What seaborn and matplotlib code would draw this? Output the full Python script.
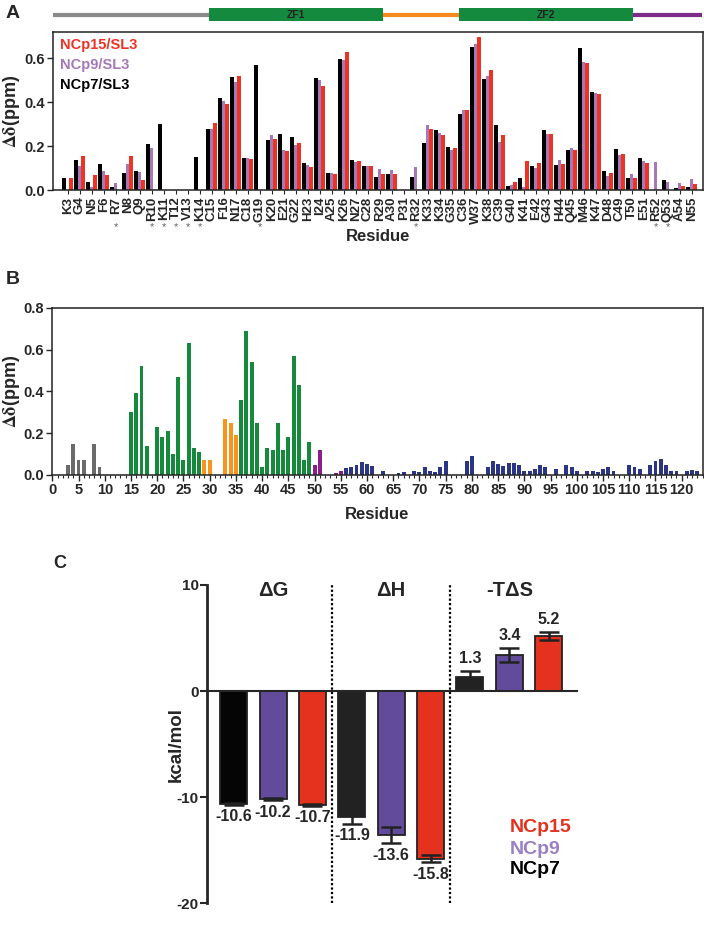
import numpy as np
import pandas as pd
import matplotlib
matplotlib.use('Agg')
import matplotlib.pyplot as plt
import matplotlib.transforms as mtransforms
from matplotlib.patches import Rectangle
from matplotlib.ticker import MultipleLocator
import seaborn as sns

# ---- panel A: per-residue shifts for the three complexes ----
residues_a = ['K3', 'G4', 'N5', 'F6', 'R7', 'N8', 'Q9', 'R10', 'K11', 'T12', 'V13', 'K14',
              'C15', 'F16', 'N17', 'C18', 'G19', 'K20', 'E21', 'G22', 'H23', 'I24', 'A25',
              'K26', 'N27', 'C28', 'R29', 'A30', 'P31', 'R32', 'K33', 'K34', 'G35', 'C36',
              'W37', 'K38', 'C39', 'G40', 'K41', 'E42', 'G43', 'H44', 'Q45', 'M46', 'K47',
              'D48', 'C49', 'T50', 'E51', 'R52', 'Q53', 'A54', 'N55']
nan = np.nan
ncp7_a = [0.055, 0.136, 0.036, 0.118, 0.017, 0.080, 0.086, 0.208, 0.303, nan, nan, 0.150,
          0.277, 0.420, 0.515, 0.145, 0.570, 0.227, 0.255, 0.242, 0.124, 0.508, 0.077,
          0.597, 0.136, 0.109, 0.062, 0.076, nan, 0.062, 0.214, 0.274, 0.195, 0.347,
          0.650, 0.506, 0.297, 0.021, 0.058, 0.112, 0.273, 0.114, 0.183, 0.645, 0.448,
          0.089, 0.186, 0.055, 0.148, nan, 0.045, 0.012, 0.015]
ncp9_a = [nan, 0.109, 0.014, 0.086, 0.033, 0.118, 0.082, 0.192, nan, nan, nan, nan,
          0.279, 0.405, 0.492, 0.145, nan, 0.252, 0.183, 0.205, 0.115, 0.503, 0.077,
          0.591, 0.130, 0.109, 0.095, 0.091, nan, 0.108, 0.297, 0.258, 0.185, 0.365,
          0.665, 0.520, 0.220, 0.024, 0.017, 0.103, 0.255, 0.136, 0.191, 0.583, 0.442,
          0.065, 0.161, 0.074, 0.135, 0.129, 0.038, 0.035, 0.052]
ncp15_a = [0.055, 0.155, 0.071, 0.071, nan, 0.155, 0.045, nan, nan, nan, nan, nan,
           0.306, 0.392, 0.518, 0.142, nan, 0.233, 0.177, 0.215, 0.105, 0.474, 0.073,
           0.629, 0.135, 0.112, 0.076, 0.076, nan, nan, 0.277, 0.252, 0.191, 0.365,
           0.695, 0.547, 0.250, 0.039, 0.132, 0.126, 0.255, 0.121, 0.183, 0.577, 0.436,
           0.077, 0.164, 0.056, 0.123, nan, nan, 0.018, 0.029]
complexes = ['NCp7/SL3', 'NCp9/SL3', 'NCp15/SL3']
starred = ['R7', 'R10', 'K11', 'T12', 'V13', 'K14', 'G19', 'R32', 'R52', 'Q53']

# domain map drawn above panel A (residue numbers)
domain_names = ['', 'ZF1', '', 'ZF2', '']
domain_start = [1.8, 14.8, 29.25, 35.6, 50.1]
domain_end = [14.8, 29.25, 35.6, 50.1, 55.9]

# ---- panel B: NCp15/SL3 over the full sequence ----
residues_b = [3, 4, 5, 6, 8, 9,
              15, 16, 17, 18, 20, 21, 22, 23, 24, 25, 26, 27, 28,
              29, 30, 33, 34, 35,
              36, 37, 38, 39, 40, 41, 42, 43, 44, 45, 46, 47, 48, 49,
              50, 51, 54, 55,
              56, 57, 58, 59, 60, 61, 63, 66, 67, 69, 70, 71, 72, 73, 74, 75,
              79, 80, 83, 84, 85, 86, 87, 88, 89, 90, 91, 92, 93, 94, 96, 98, 99, 100,
              102, 103, 104, 105, 106, 107, 110, 111, 112, 114, 115, 116, 117, 118, 119,
              121, 122, 123]
dd_b = [0.05, 0.15, 0.07, 0.07, 0.15, 0.04,
        0.30, 0.39, 0.52, 0.14, 0.23, 0.18, 0.21, 0.10, 0.47, 0.07, 0.63, 0.13, 0.11,
        0.07, 0.07, 0.27, 0.25, 0.19,
        0.36, 0.69, 0.54, 0.25, 0.04, 0.13, 0.12, 0.25, 0.12, 0.18, 0.57, 0.43, 0.07, 0.16,
        0.05, 0.12, 0.01, 0.02,
        0.035, 0.040, 0.048, 0.061, 0.054, 0.045, 0.018, 0.010, 0.014, 0.019, 0.016, 0.038,
        0.019, 0.016, 0.038, 0.069,
        0.069, 0.090, 0.038, 0.069, 0.053, 0.045, 0.056, 0.056, 0.048, 0.018, 0.018, 0.029,
        0.048, 0.038, 0.029, 0.048, 0.038, 0.018,
        0.018, 0.018, 0.014, 0.029, 0.038, 0.018, 0.048, 0.038, 0.029, 0.048, 0.069, 0.078,
        0.048, 0.018, 0.018,
        0.018, 0.022, 0.018]

# ---- panel C: ITC thermodynamics ----
terms = ['ΔG', 'ΔH', '-TΔS']
proteins = ['NCp7', 'NCp9', 'NCp15']
dG = [-10.6, -10.2, -10.7]
dH = [-11.9, -13.6, -15.8]
TdS = [1.3, 3.4, 5.2]
dG_err = [0.1, 0.1, 0.1]
dH_err = [0.6, 0.75, 0.35]
TdS_err = [0.6, 0.7, 0.35]

sns.set_style('ticks')
plt.rcParams['font.family'] = ['Liberation Sans', 'DejaVu Sans']
plt.rcParams['font.weight'] = 'bold'
plt.rcParams['axes.labelweight'] = 'bold'
plt.rcParams['axes.unicode_minus'] = False
plt.rcParams['mathtext.fontset'] = 'stix'

col_a = {'NCp7/SL3': '#000000', 'NCp9/SL3': '#a678b8', 'NCp15/SL3': '#ee3224'}
region_cols = {'Nterm': '#6b6b6b', 'ZF1': '#168a3c', 'linker': '#f7941d',
               'ZF2': '#168a3c', 'Cterm': '#8b1e8b', 'p6': '#2a3585'}

fig = plt.figure(figsize=(7.04, 9.27), dpi=100)
W, H = 704.0, 927.0


def frac(x0, y0, x1, y1):
    return [x0 / W, 1 - y1 / H, (x1 - x0) / W, (y1 - y0) / H]


# ---------------- panel A ----------------
axa = fig.add_axes(frac(53.3, 31.7, 702.7, 190.3))
df_a = pd.DataFrame({'residue': residues_a * 3,
                     'complex': np.repeat(complexes, len(residues_a)),
                     'dd': ncp7_a + ncp9_a + ncp15_a}).dropna()
sns.barplot(data=df_a, x='residue', y='dd', hue='complex', order=residues_a,
            hue_order=complexes, palette=col_a, saturation=1, width=0.87,
            errorbar=None, linewidth=0, legend=False, ax=axa)
xlo, xhi = -1.2, 52.92
axa.set_xlim(xlo, xhi)
axa.set_ylim(0, 0.72)
axa.set_yticks([0.0, 0.2, 0.4, 0.6])
axa.set_yticklabels(['0.0', '0.2', '0.4', '0.6'], fontsize=10.5, fontweight='bold')
axa.set_xticks(range(len(residues_a)))
axa.set_xticklabels(residues_a, rotation=90, fontsize=9.5, fontweight='bold')
axa.tick_params(axis='x', length=3, width=0.8, pad=1.5)
axa.tick_params(axis='y', length=4, width=1.0, pad=2)
for s in axa.spines.values():
    s.set_visible(True)
    s.set_color('#222222')
    s.set_linewidth(1.1)
axa.set_ylabel(r'$\mathrm{\Delta\delta}$(ppm)', fontsize=13, fontweight='bold')
axa.yaxis.set_label_coords(-0.048, 0.5)
axa.set_xlabel('Residue', fontsize=12, fontweight='bold')
axa.xaxis.set_label_coords(0.5, -0.245)
trans = mtransforms.blended_transform_factory(axa.transData, axa.transAxes)
for name in starred:
    axa.text(residues_a.index(name), -0.235, '*', transform=trans, ha='center',
             va='center', fontsize=8, color='#666666', fontweight='normal')
for lab, yy in zip(complexes[::-1], [0.916, 0.790, 0.664]):
    axa.text(0.011, yy, lab, transform=axa.transAxes, ha='left', va='center',
             fontsize=10.5, fontweight='bold', color=col_a[lab])

# domain map
axd = fig.add_axes(frac(53.3, 6, 702.7, 24))
axd.set_xlim(xlo, xhi)
axd.set_ylim(0, 1)
axd.axis('off')
dom_cols = ['#8a8a8a', '#138a3e', '#f58a1f', '#138a3e', '#7d2a8a']
for name, r0, r1, c in zip(domain_names, domain_start, domain_end, dom_cols):
    x0, x1 = r0 - 3, r1 - 3
    if name:
        axd.add_patch(Rectangle((x0, 0.18), x1 - x0, 0.69, color=c, lw=0))
        axd.text((x0 + x1) / 2, 0.52, name, ha='center', va='center',
                 fontsize=7.5, fontweight='bold', color='#222222')
    else:
        axd.plot([x0, x1], [0.52, 0.52], color=c, lw=3, solid_capstyle='butt')

# ---------------- panel B ----------------
axb = fig.add_axes(frac(52.3, 307.7, 702.7, 475))


def region(r):
    if r < 15:
        return 'Nterm'
    if r <= 28:
        return 'ZF1'
    if r <= 35:
        return 'linker'
    if r <= 49:
        return 'ZF2'
    if r <= 55:
        return 'Cterm'
    return 'p6'


df_b = pd.DataFrame({'residue': residues_b, 'dd': dd_b,
                     'region': [region(r) for r in residues_b]})
sns.barplot(data=df_b, x='residue', y='dd', hue='region', native_scale=True,
            dodge=False, palette=region_cols, saturation=1, width=0.75,
            errorbar=None, linewidth=0, legend=False, ax=axb)
axb.set_xlim(0, 124)
axb.set_ylim(0, 0.8)
axb.xaxis.set_major_locator(MultipleLocator(5))
axb.xaxis.set_minor_locator(MultipleLocator(1))
axb.set_xticks(range(0, 121, 5))
axb.set_xticklabels([str(v) for v in range(0, 121, 5)], fontsize=10.5, fontweight='bold')
axb.set_yticks([0.0, 0.2, 0.4, 0.6, 0.8])
axb.set_yticklabels(['0.0', '0.2', '0.4', '0.6', '0.8'], fontsize=10.5, fontweight='bold')
axb.tick_params(axis='x', which='major', length=4, width=1.0, pad=2)
axb.tick_params(axis='x', which='minor', length=2, width=0.8)
axb.tick_params(axis='y', length=4, width=1.0, pad=2)
for s in axb.spines.values():
    s.set_visible(True)
    s.set_color('#222222')
    s.set_linewidth(1.1)
axb.set_ylabel(r'$\mathrm{\Delta\delta}$(ppm)', fontsize=13, fontweight='bold')
axb.yaxis.set_label_coords(-0.0466, 0.5)
axb.set_xlabel('Residue', fontsize=12, fontweight='bold')
axb.xaxis.set_label_coords(0.5, -0.19)

# ---------------- panel C ----------------
axc = fig.add_axes(frac(207.3, 585, 576.7, 903.3))
slots = [t + ' ' + p for t in terms for p in proteins]
df_c = pd.DataFrame({'slot': slots, 'value': dG + dH + TdS})
errs = dG_err + dH_err + TdS_err
col_c = ['#050505', '#624b9b', '#e5321f', '#222222', '#624b9b', '#e5321f',
         '#222222', '#624b9b', '#e5321f']
sns.barplot(data=df_c, x='slot', y='value', hue='slot', order=slots,
            palette=col_c, saturation=1, width=0.685, errorbar=None,
            edgecolor='#222222', linewidth=1.3, legend=False, ax=axc)
xs = np.arange(len(slots))
axc.errorbar(xs, df_c['value'], yerr=errs, fmt='none', ecolor='#222222',
             elinewidth=1.8, capsize=7, capthick=1.8, zorder=5)
for x, v, e in zip(xs, df_c['value'], errs):
    if v < 0:
        axc.text(x, v - e - 0.45, f'{v:.1f}', ha='center', va='top',
                 fontsize=11.5, fontweight='bold')
    else:
        axc.text(x, v + e + 0.45, f'{v:.1f}', ha='center', va='bottom',
                 fontsize=11.5, fontweight='bold')
for xv in [2.5, 5.5]:
    axc.plot([xv, xv], [-20, 10], color='black', lw=1.6, ls=(0, (1, 1.0)),
             clip_on=False)
for k, t in enumerate(terms):
    axc.text(3 * k + 1, 9.5, t, ha='center', va='center', fontsize=14.5,
             fontweight='bold')
for lab, yy, c in zip(['NCp15', 'NCp9', 'NCp7'], [-12.9, -14.9, -16.8],
                      ['#e5321f', '#9b7fc2', '#000000']):
    axc.text(7.0, yy, lab, ha='left', va='center', fontsize=14,
             fontweight='bold', color=c)
axc.set_xlim(-0.67, 8.71)
axc.set_ylim(-20, 10)
axc.set_yticks([10, 0, -10, -20])
axc.set_yticklabels(['10', '0', '-10', '-20'], fontsize=11, fontweight='bold')
axc.spines['top'].set_visible(False)
axc.spines['right'].set_visible(False)
axc.spines['bottom'].set_position(('data', 0))
axc.spines['bottom'].set_linewidth(1.5)
axc.spines['left'].set_linewidth(2)
axc.tick_params(axis='x', length=0, labelbottom=False)
axc.tick_params(axis='y', length=5, width=1.5, pad=1)
axc.set_xlabel('')
axc.set_ylabel('kcal/mol', fontsize=13.5, fontweight='bold')
axc.yaxis.set_label_coords(-0.06, 0.5)

# panel letters
fig.text(13 / W, 1 - 13.5 / H, 'A', fontsize=14, fontweight='bold', ha='center', va='center')
fig.text(13 / W, 1 - 280 / H, 'B', fontsize=14, fontweight='bold', ha='center', va='center')
fig.text(60 / W, 1 - 563 / H, 'C', fontsize=13, fontweight='bold', ha='center', va='center')

fig.savefig('out.png', dpi=100)
